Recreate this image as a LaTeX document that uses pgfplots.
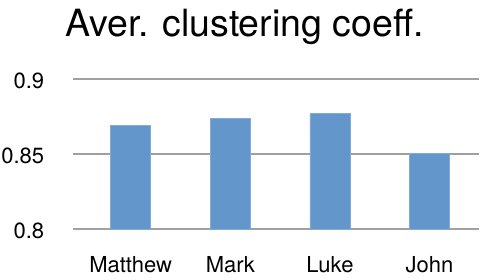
\documentclass[border=0pt]{standalone}
\usepackage{fontspec}
\setmainfont{TeX Gyre Heros}
\usepackage{pgfplots}
\pgfplotsset{compat=1.18}
\definecolor{barblue}{RGB}{99,150,203}
\definecolor{gridgray}{RGB}{160,160,160}
\begin{document}
\begin{tikzpicture}
\useasboundingbox (-73.3pt,-50pt) rectangle (414.7pt,229pt);
\begin{axis}[
  at={(0,0)}, anchor=south west,
  scale only axis,
  width=406pt, height=150pt,
  ymin=0.8, ymax=0.9,
  ytick={0.8,0.85,0.9},
  yticklabels={0.8,0.85,0.9},
  xmin=-0.576, xmax=3.5,
  xtick={0,1,2,3},
  xticklabels={Matthew,Mark,Luke,John},
  axis line style={draw=none},
  tick style={draw=none},
  ymajorgrids,
  major grid style={gridgray, line width=1.6pt},
  yticklabel style={font=\fontsize{22}{24}\selectfont, anchor=east, inner sep=0pt, xshift=-29pt, yshift=-2pt},
  xticklabel style={font=\fontsize{22}{24}\selectfont, anchor=base, inner sep=0pt, yshift=-43.5pt},
  /pgf/number format/assume math mode=true,
  title={Aver. clustering coeff.},
  title style={font=\fontsize{37.5}{40}\selectfont, at={(axis description cs:0.422,1)}, anchor=base, inner sep=0pt, yshift=37pt},
  clip=false,
]
\addplot[ybar, bar width=0.4, fill=barblue, draw=barblue!80!white, line width=0.6pt] coordinates {
  (0,0.869) (1,0.874) (2,0.877) (3,0.8505)
};
\end{axis}
\end{tikzpicture}
\end{document}
